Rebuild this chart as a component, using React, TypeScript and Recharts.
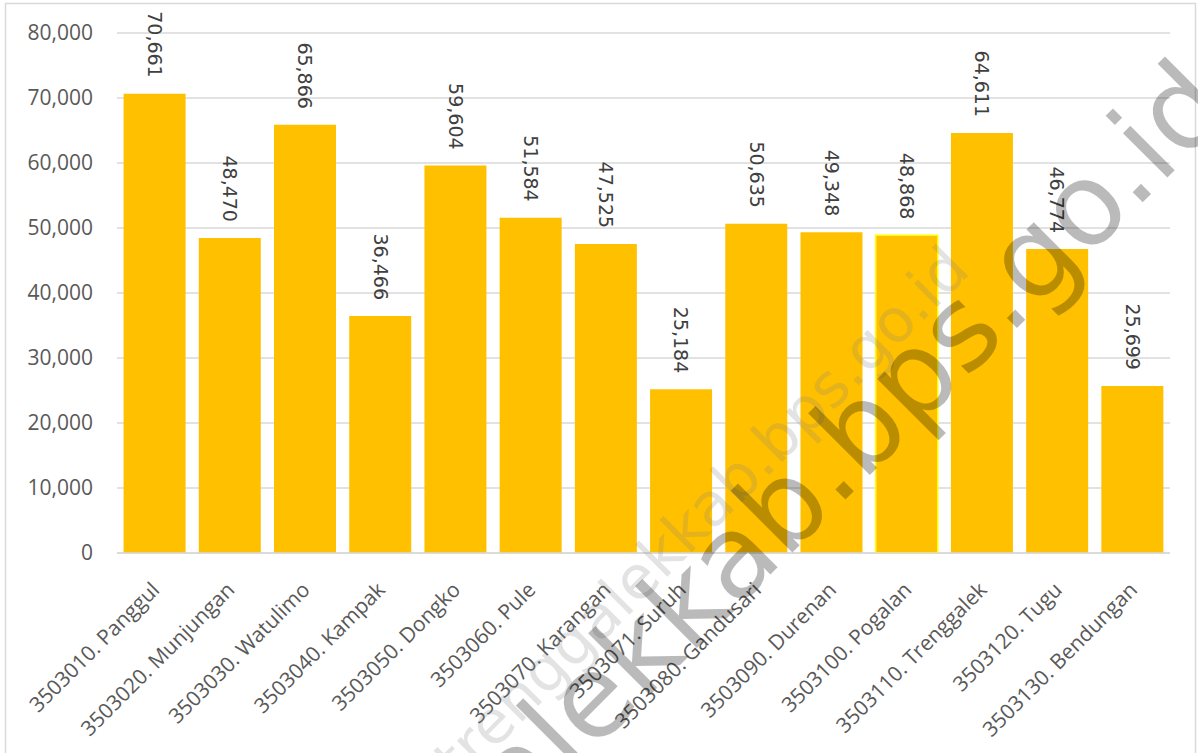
import React from 'react';
import { BarChart, Bar, XAxis, YAxis, CartesianGrid, LabelList, Cell } from 'recharts';

const categories = [
  '3503010. Panggul',
  '3503020. Munjungan',
  '3503030. Watulimo',
  '3503040. Kampak',
  '3503050. Dongko',
  '3503060. Pule',
  '3503070. Karangan',
  '3503071. Suruh',
  '3503080. Gandusari',
  '3503090. Durenan',
  '3503100. Pogalan',
  '3503110. Trenggalek',
  '3503120. Tugu',
  '3503130. Bendungan',
];

const values = [70661, 48470, 65866, 36466, 59604, 51584, 47525, 25184, 50635, 49348, 48868, 64611, 46774, 25699];

const yTicks = [0, 10000, 20000, 30000, 40000, 50000, 60000, 70000, 80000];

const outlinedCategory = '3503100. Pogalan';

const watermarkText = 'trenggalekkab.bps.go.id';

const data = categories.map((name, i) => ({ name, value: values[i] }));

const fmt = (v: number) => v.toLocaleString('en-US');

const TICK_FONT = '"Open Sans", "Liberation Sans", sans-serif';
const LABEL_FONT = '"DejaVu Sans", sans-serif';

const XTick = (props: any) => {
  const { x, y, payload } = props;
  return (
    <text
      transform={`translate(${x - 5},${y + 27}) rotate(-45)`}
      textAnchor="end"
      dy="0.75em"
      fill="#595959"
      fontFamily={TICK_FONT}
      fontSize={21}
    >
      {payload.value}
    </text>
  );
};

const YTick = (props: any) => {
  const { x, y, payload } = props;
  return (
    <text
      x={x}
      y={y}
      textAnchor="end"
      dy="0.35em"
      fill="#595959"
      fontFamily={TICK_FONT}
      fontSize={21}
    >
      {fmt(payload.value)}
    </text>
  );
};

const ValueLabel = (props: any) => {
  const { x, y, width, value } = props;
  return (
    <text
      transform={`translate(${x + width / 2},${y - 16}) rotate(90)`}
      textAnchor="end"
      dy="0.35em"
      fill="#404040"
      fontFamily={LABEL_FONT}
      fontSize={19}
    >
      {fmt(value)}
    </text>
  );
};

export default function App() {
  return (
    <div
      style={{
        position: 'absolute',
        left: 0,
        top: 0,
        width: 1198,
        height: 753,
        overflow: 'hidden',
        background: '#ffffff',
      }}
    >
      <div style={{ position: 'absolute', left: 0, top: 0 }}>
        <BarChart
          width={1198}
          height={753}
          data={data}
          margin={{ top: 33, right: 28, bottom: 0, left: 0 }}
          barCategoryGap="8.75%"
        >
          <CartesianGrid vertical={false} stroke="#d9d9d9" strokeWidth={1.5} />
          <XAxis
            dataKey="name"
            interval={0}
            height={200}
            tickLine={false}
            tickSize={0}
            tickMargin={0}
            axisLine={{ stroke: '#d9d9d9', strokeWidth: 1.5 }}
            tick={<XTick />}
          />
          <YAxis
            width={117}
            domain={[0, 80000]}
            ticks={yTicks}
            interval={0}
            tickLine={false}
            tickSize={0}
            tickMargin={24}
            axisLine={false}
            tick={<YTick />}
          />
          <Bar dataKey="value" fill="#FFC000" isAnimationActive={false}>
            {data.map((d) => (
              <Cell
                key={d.name}
                fill="#FFC000"
                stroke={d.name === outlinedCategory ? '#FFFF00' : 'none'}
                strokeWidth={d.name === outlinedCategory ? 1.5 : 0}
              />
            ))}
            <LabelList dataKey="value" content={<ValueLabel />} />
          </Bar>
        </BarChart>
      </div>
      <svg
        width={1198}
        height={753}
        style={{ position: 'absolute', left: 0, top: 0, pointerEvents: 'none' }}
      >
        <rect x={5.5} y={3.5} width={1190} height={780} fill="none" stroke="#d9d9d9" strokeWidth={1.5} />
        <text
          transform="translate(972,272) rotate(-45)"
          textAnchor="end"
          fontFamily={LABEL_FONT}
          fontSize={60}
          fill="#808080"
          fillOpacity={0.22}
        >
          {watermarkText}
        </text>
        <text
          transform="translate(1234,111) rotate(-45)"
          textAnchor="end"
          fontFamily={LABEL_FONT}
          fontSize={115}
          fill="#000000"
          fillOpacity={0.27}
        >
          {watermarkText}
        </text>
      </svg>
    </div>
  );
}
